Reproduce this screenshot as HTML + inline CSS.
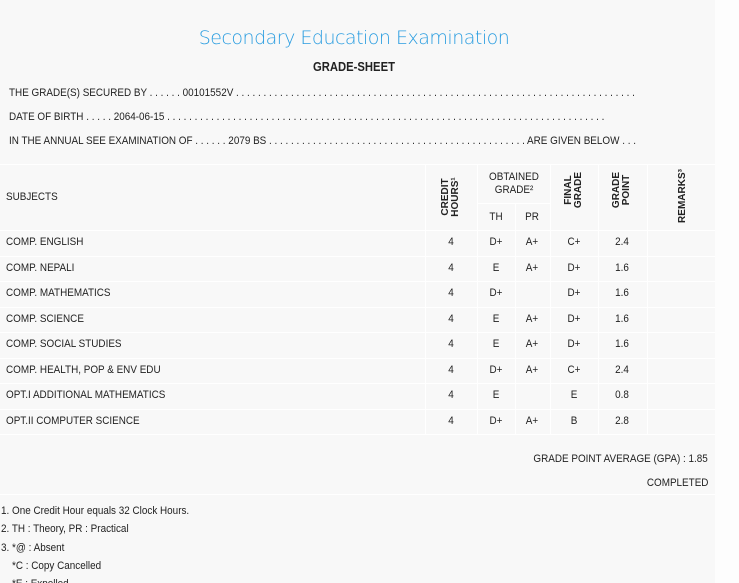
<!DOCTYPE html>
<html><head><meta charset="utf-8"><style>
*{margin:0;padding:0;box-sizing:border-box}
html,body{width:739px;height:583px;overflow:hidden}
body{background:#f8f8f8;font-family:"Liberation Sans",sans-serif;color:#222;position:relative}
.t{position:absolute;white-space:nowrap;font-size:11px;transform:scaleX(0.9);transform-origin:left center;line-height:12px}
.c{position:absolute;white-space:nowrap;font-size:11px;line-height:12px;text-align:center;transform:translateX(-50%) scaleX(0.9)}
.strip{position:absolute;left:715px;top:0;width:24px;height:583px;background:#fdfdfd}
.hl{position:absolute;height:1px;background:#fff;left:0;width:715px}
.vl{position:absolute;width:1px;background:#fff}
.v{position:absolute;font-size:10px;font-weight:bold;line-height:10px;text-align:center;transform:translate(-50%,-50%) rotate(-90deg);white-space:nowrap}
</style></head><body>
<div class="strip"></div>
<div style="position:absolute;left:0;width:708px;top:27px;text-align:center;font-size:19px;color:#2a9de0;font-family:'DejaVu Sans',sans-serif;font-weight:300;letter-spacing:-0.5px">Secondary Education Examination</div>
<div class="c" style="left:354px;top:60px;font-size:12.5px;font-weight:bold;line-height:14px">GRADE-SHEET</div>
<div class="t" style="left:9px;top:87px">THE GRADE(S) SECURED BY . . . . . . 00101552V . . . . . . . . . . . . . . . . . . . . . . . . . . . . . . . . . . . . . . . . . . . . . . . . . . . . . . . . . . . . . . . . . . . . . . . . .</div>
<div class="t" style="left:9px;top:111px">DATE OF BIRTH . . . . . 2064-06-15 . . . . . . . . . . . . . . . . . . . . . . . . . . . . . . . . . . . . . . . . . . . . . . . . . . . . . . . . . . . . . . . . . . . . . . . . . . . . . . . .</div>
<div class="t" style="left:9px;top:135px">IN THE ANNUAL SEE EXAMINATION OF . . . . . . 2079 BS . . . . . . . . . . . . . . . . . . . . . . . . . . . . . . . . . . . . . . . . . . . . . . . ARE GIVEN BELOW . . .</div>
<div class="hl" style="top:164px"></div>
<div class="hl" style="top:230px"></div>
<div class="hl" style="top:256px"></div>
<div class="hl" style="top:281px"></div>
<div class="hl" style="top:307px"></div>
<div class="hl" style="top:332px"></div>
<div class="hl" style="top:358px"></div>
<div class="hl" style="top:383px"></div>
<div class="hl" style="top:409px"></div>
<div class="hl" style="top:434px"></div>
<div class="hl" style="top:203px;left:477px;width:73px"></div>
<div class="hl" style="top:494px"></div>
<div class="vl" style="left:425px;top:164px;height:270px"></div>
<div class="vl" style="left:477px;top:164px;height:270px"></div>
<div class="vl" style="left:515px;top:203px;height:231px"></div>
<div class="vl" style="left:550px;top:164px;height:270px"></div>
<div class="vl" style="left:598px;top:164px;height:270px"></div>
<div class="vl" style="left:647px;top:164px;height:270px"></div>
<div class="t" style="left:6px;top:191px">SUBJECTS</div>
<div class="v" style="left:451px;top:197px">CREDIT<br>HOURS¹</div>
<div class="c" style="left:514px;top:171px;line-height:13px">OBTAINED<br>GRADE²</div>
<div class="c" style="left:496px;top:211px">TH</div>
<div class="c" style="left:532px;top:211px">PR</div>
<div class="v" style="left:574px;top:190px">FINAL<br>GRADE</div>
<div class="v" style="left:622px;top:190px">GRADE<br>POINT</div>
<div class="v" style="left:683px;top:196px">REMARKS³</div>
<div class="t" style="left:6px;top:236px">COMP. ENGLISH</div>
<div class="c" style="left:451px;top:236px">4</div><div class="c" style="left:496px;top:236px">D+</div><div class="c" style="left:532px;top:236px">A+</div><div class="c" style="left:574px;top:236px">C+</div><div class="c" style="left:622px;top:236px">2.4</div>
<div class="t" style="left:6px;top:262px">COMP. NEPALI</div>
<div class="c" style="left:451px;top:262px">4</div><div class="c" style="left:496px;top:262px">E</div><div class="c" style="left:532px;top:262px">A+</div><div class="c" style="left:574px;top:262px">D+</div><div class="c" style="left:622px;top:262px">1.6</div>
<div class="t" style="left:6px;top:287px">COMP. MATHEMATICS</div>
<div class="c" style="left:451px;top:287px">4</div><div class="c" style="left:496px;top:287px">D+</div><div class="c" style="left:574px;top:287px">D+</div><div class="c" style="left:622px;top:287px">1.6</div>
<div class="t" style="left:6px;top:313px">COMP. SCIENCE</div>
<div class="c" style="left:451px;top:313px">4</div><div class="c" style="left:496px;top:313px">E</div><div class="c" style="left:532px;top:313px">A+</div><div class="c" style="left:574px;top:313px">D+</div><div class="c" style="left:622px;top:313px">1.6</div>
<div class="t" style="left:6px;top:338px">COMP. SOCIAL STUDIES</div>
<div class="c" style="left:451px;top:338px">4</div><div class="c" style="left:496px;top:338px">E</div><div class="c" style="left:532px;top:338px">A+</div><div class="c" style="left:574px;top:338px">D+</div><div class="c" style="left:622px;top:338px">1.6</div>
<div class="t" style="left:6px;top:364px">COMP. HEALTH, POP &amp; ENV EDU</div>
<div class="c" style="left:451px;top:364px">4</div><div class="c" style="left:496px;top:364px">D+</div><div class="c" style="left:532px;top:364px">A+</div><div class="c" style="left:574px;top:364px">C+</div><div class="c" style="left:622px;top:364px">2.4</div>
<div class="t" style="left:6px;top:389px">OPT.I ADDITIONAL MATHEMATICS</div>
<div class="c" style="left:451px;top:389px">4</div><div class="c" style="left:496px;top:389px">E</div><div class="c" style="left:574px;top:389px">E</div><div class="c" style="left:622px;top:389px">0.8</div>
<div class="t" style="left:6px;top:415px">OPT.II COMPUTER SCIENCE</div>
<div class="c" style="left:451px;top:415px">4</div><div class="c" style="left:496px;top:415px">D+</div><div class="c" style="left:532px;top:415px">A+</div><div class="c" style="left:574px;top:415px">B</div><div class="c" style="left:622px;top:415px">2.8</div>
<div class="t" style="right:31px;top:453px;transform-origin:right center">GRADE POINT AVERAGE (GPA) : 1.85</div>
<div class="t" style="right:31px;top:477px;transform-origin:right center">COMPLETED</div>
<div class="t" style="left:1px;top:505px">1. One Credit Hour equals 32 Clock Hours.</div>
<div class="t" style="left:1px;top:523px">2. TH : Theory, PR : Practical</div>
<div class="t" style="left:1px;top:542px">3. *@ : Absent</div>
<div class="t" style="left:12px;top:560px">*C : Copy Cancelled</div>
<div class="t" style="left:12px;top:578px">*E : Expelled</div>
</body></html>
